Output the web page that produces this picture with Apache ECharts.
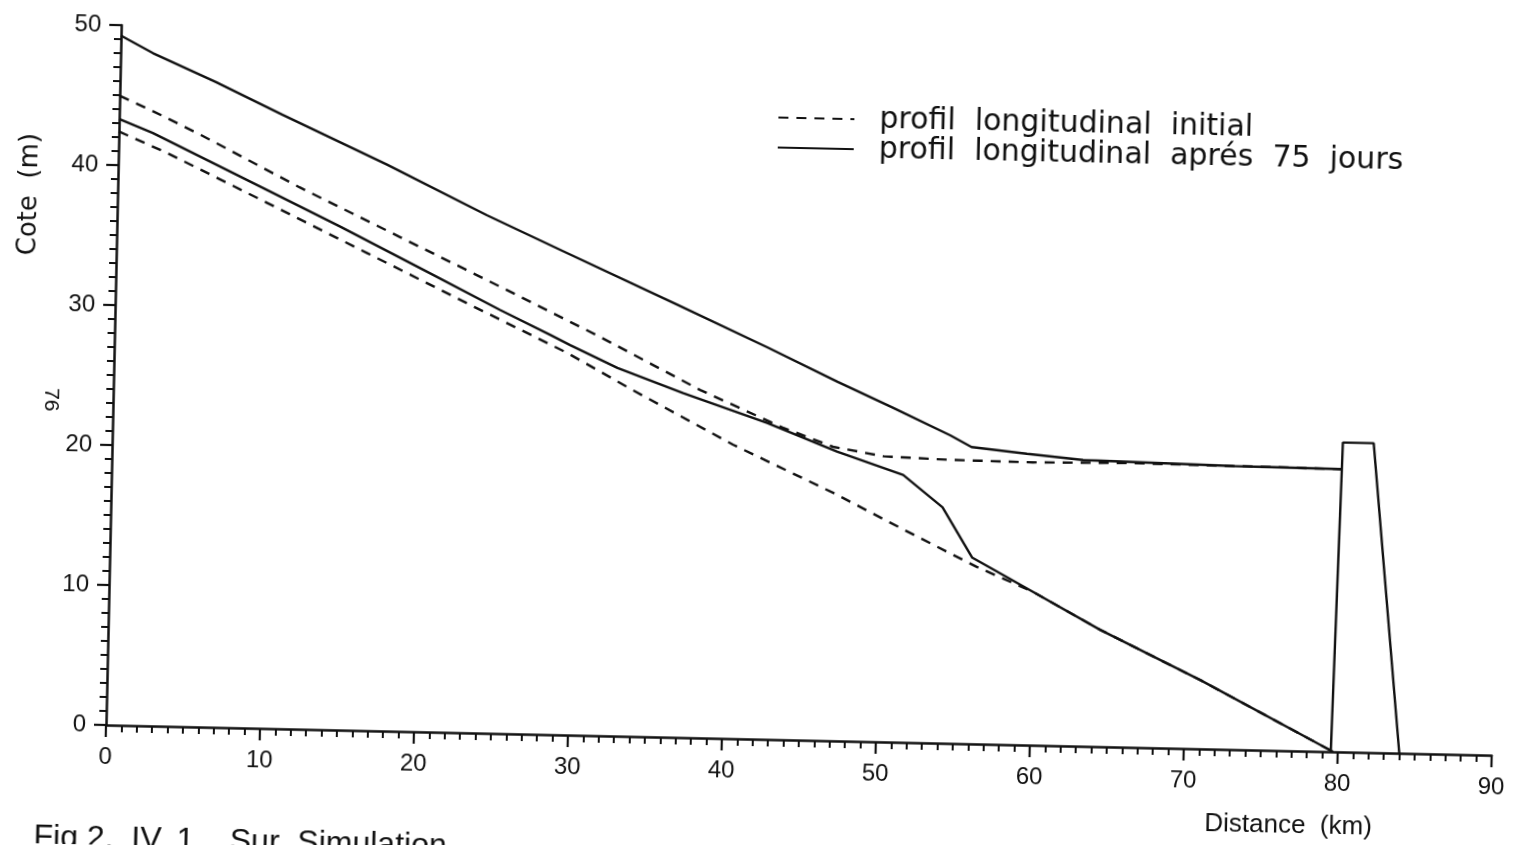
<!DOCTYPE html>
<html>
<head>
<meta charset="utf-8">
<title>Profil longitudinal</title>
<script src="https://cdn.jsdelivr.net/npm/echarts@6/dist/echarts.min.js"></script>
<style>
  html, body { margin: 0; padding: 0; background: #fff; overflow: hidden; }
  /* the plotted sheet sits slightly turned on the page */
  #chart {
    position: absolute; left: 0; top: 0;
    width: 1521px; height: 845px;
    transform-origin: 106px 725px;
    transform: rotate(1.25deg);
  }
</style>
</head>
<body>
<div id="chart"></div>
<script>
// Distance (km), cote (m)
const surfaceInitiale = [
  [0, 44.95], [2.0, 44.0], [5.3, 42.3], [11.8, 38.7], [18.4, 35.3], [25.0, 31.9],
  [31.5, 28.5], [38.1, 24.85], [43.5, 22.3], [46.8, 21.0], [50.1, 20.4], [54.4, 20.25],
  [59.8, 20.2], [66.3, 20.3], [72.8, 20.25], [79.8, 20.2]
];
const fondInitial = [
  [0, 42.4], [3.15, 40.95], [9.7, 37.55], [16.3, 34.1], [22.8, 30.7], [29.4, 27.3],
  [33.7, 24.75], [40.3, 21.0], [46.9, 17.7], [51.5, 15.2], [56.3, 12.65], [60.0, 10.95],
  [64.4, 8.35], [71.0, 4.9], [79.7, 0]
];
const surface75 = [
  [0, 49.25], [2.1, 48.05], [6.2, 46.1], [10.6, 43.85], [17.45, 40.45], [24.0, 37.0],
  [29.1, 34.5], [36.5, 30.9], [42.4, 28.0], [47.0, 25.65], [50.6, 23.9], [54.4, 22.0],
  [55.8, 21.2], [59.4, 20.8], [63.05, 20.45], [72.8, 20.25], [79.8, 20.2]
];
const fond75 = [
  [0, 43.3], [2.2, 42.35], [5.95, 40.4], [9.7, 38.45], [14.5, 35.95], [20.6, 32.65],
  [25.0, 30.25], [28.3, 28.55], [29.6, 27.85], [32.7, 26.3], [37.0, 24.6], [42.5, 22.6],
  [47.1, 20.65], [51.4, 19.1], [54.0, 16.85], [56.0, 13.3], [60.0, 10.95], [64.4, 8.35],
  [71.0, 4.9], [79.7, 0]
];
const barrage = [[79.55, 0], [79.9, 22.1], [81.9, 22.1], [84.0, 0]];

const nomInitial = 'profil  longitudinal  initial';
const nom75 = 'profil  longitudinal  aprés  75  jours';

const FONT = '"Liberation Sans", Arial, sans-serif';
const FONT_WIDE = '"DejaVu Sans", sans-serif';
const INK = '#111';
const dashed = { color: INK, width: 2.4, type: [10, 8] };
const solid = { color: INK, width: 2.4, type: 'solid' };

function line(name, data, style) {
  return {
    type: 'line', name: name, data: data,
    symbol: 'none', showSymbol: false, smooth: false,
    lineStyle: style, itemStyle: { color: INK },
    silent: true, animation: false, z: 3
  };
}

const chart = echarts.init(document.getElementById('chart'), null, { renderer: 'canvas' });
chart.setOption({
  backgroundColor: '#fff',
  animation: false,
  grid: { left: 106, top: 25, width: 1386, height: 700, containLabel: false },
  legend: {
    data: [nomInitial, nom75],
    orient: 'vertical',
    left: 759, top: 83,
    itemWidth: 76, itemHeight: 14, itemGap: 0,
    itemStyle: { opacity: 0 },
    textStyle: { fontFamily: FONT_WIDE, fontSize: 30, color: INK, lineHeight: 29, padding: [0, 0, 0, 20] },
    selectedMode: false
  },
  xAxis: {
    type: 'value', min: 0, max: 90, interval: 10,
    axisLine: { show: true, lineStyle: { color: INK, width: 2.5 } },
    axisTick: { show: true, length: 12, lineStyle: { color: INK, width: 2.2 } },
    minorTick: { show: true, splitNumber: 10, length: 7, lineStyle: { color: INK, width: 2 } },
    axisLabel: { fontFamily: FONT, fontSize: 24, color: INK, margin: 20 },
    splitLine: { show: false }, minorSplitLine: { show: false }
  },
  yAxis: {
    type: 'value', min: 0, max: 50, interval: 10,
    axisLine: { show: true, lineStyle: { color: INK, width: 2.5 } },
    axisTick: { show: true, length: 12, lineStyle: { color: INK, width: 2.2 } },
    minorTick: { show: true, splitNumber: 10, length: 7, lineStyle: { color: INK, width: 2 } },
    axisLabel: { fontFamily: FONT, fontSize: 24, color: INK, margin: 20 },
    splitLine: { show: false }, minorSplitLine: { show: false }
  },
  graphic: [
    { type: 'text', x: 18, y: 196, rotation: Math.PI / 2,
      style: { text: 'Cote  (m)', font: '26px ' + FONT_WIDE, fill: INK, textAlign: 'center', textVerticalAlign: 'middle' } },
    { type: 'text', x: 1290, y: 800,
      style: { text: 'Distance  (km)', font: '26px ' + FONT, fill: INK, textAlign: 'center', textVerticalAlign: 'middle' } },
    { type: 'text', x: 44, y: 401, rotation: -Math.PI / 2,
      style: { text: '76', font: '21px ' + FONT, fill: INK, textAlign: 'center', textVerticalAlign: 'middle' } },
    { type: 'text', x: 36, y: 823,
      style: { text: 'Fig 2.  IV. 1 .  Sur  Simulation', font: '32px ' + FONT, fill: INK, textAlign: 'left', textVerticalAlign: 'top' } }
  ],
  series: [
    line(nomInitial, surfaceInitiale, dashed),
    line(nomInitial, fondInitial, dashed),
    line(nom75, surface75, solid),
    line(nom75, fond75, solid),
    line('barrage', barrage, solid)
  ]
});
</script>
</body>
</html>
